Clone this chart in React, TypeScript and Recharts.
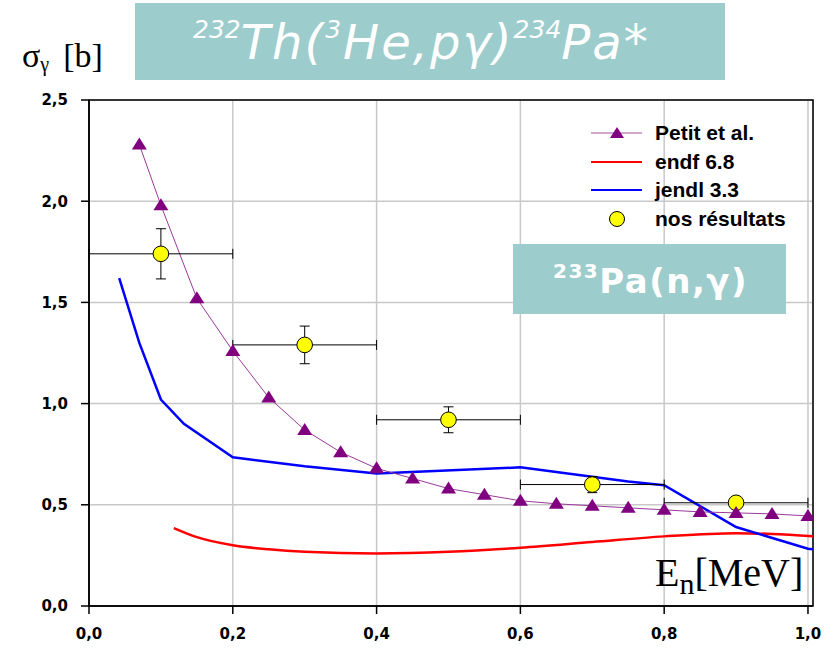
import {
  ComposedChart,
  Line,
  Scatter,
  ErrorBar,
  XAxis,
  YAxis,
  CartesianGrid,
  ReferenceArea,
  Legend,
} from "recharts";

// Petit et al. (triangles)
const petitX = [0.07, 0.1, 0.15, 0.2, 0.25, 0.3, 0.35, 0.4, 0.45, 0.5, 0.55, 0.6, 0.65, 0.7, 0.75, 0.8, 0.85, 0.9, 0.95, 1.0];
const petitY = [2.28, 1.98, 1.52, 1.26, 1.03, 0.87, 0.76, 0.68, 0.63, 0.58, 0.55, 0.52, 0.505, 0.495, 0.485, 0.475, 0.465, 0.46, 0.455, 0.445];

// endf 6.8
const endfX = [0.118, 0.15, 0.2, 0.25, 0.3, 0.4, 0.5, 0.6, 0.7, 0.8, 0.9, 0.95, 1.007];
const endfY = [0.385, 0.34, 0.3, 0.28, 0.268, 0.26, 0.268, 0.288, 0.316, 0.344, 0.36, 0.356, 0.345];

// jendl 3.3
const jendlX = [0.042, 0.07, 0.1, 0.132, 0.2, 0.3, 0.4, 0.6, 0.75, 0.8, 0.9, 1.0, 1.007];
const jendlY = [1.62, 1.3, 1.02, 0.9, 0.735, 0.69, 0.655, 0.685, 0.615, 0.597, 0.39, 0.283, 0.28];

// nos résultats
const nosX = [0.1, 0.3, 0.5, 0.7, 0.9];
const nosY = [1.74, 1.29, 0.92, 0.6, 0.51];
const nosXErr = [0.1, 0.1, 0.1, 0.1, 0.1];
const nosYErr = [0.124, 0.093, 0.064, 0.04, 0.02];

const xTicks = [0, 0.2, 0.4, 0.6, 0.8, 1.0];
const yTicks = [0, 0.5, 1.0, 1.5, 2.0, 2.5];

const petitData = petitX.map((x, i) => ({ x, y: petitY[i] }));
const endfData = endfX.map((x, i) => ({ x, y: endfY[i] }));
const jendlData = jendlX.map((x, i) => ({ x, y: jendlY[i] }));
const nosData = nosX.map((x, i) => ({ x, y: nosY[i], ex: nosXErr[i], ey: nosYErr[i] }));

const PURPLE = "#800080";
const TEAL = "#9ccccc";
const fmt = (v: number) => v.toFixed(1).replace(".", ",");
const tickFont = { fontFamily: "DejaVu Sans, Verdana", fontWeight: 700, fontSize: 15, fill: "#000" };

const Triangle = (props: any) => {
  const { cx, cy } = props;
  if (cx == null || cy == null) return null;
  return <path d={`M${cx},${cy - 7} L${cx + 7.5},${cy + 5} L${cx - 7.5},${cy + 5} Z`} fill={PURPLE} />;
};

const Circle = (props: any) => {
  const { cx, cy } = props;
  return <circle cx={cx} cy={cy} r={7.8} fill="#ffff00" stroke="#000" strokeWidth={1} />;
};

const renderLegend = () => {
  const rows = [
    { label: "Petit et al.", kind: "petit" },
    { label: "endf 6.8", kind: "endf" },
    { label: "jendl 3.3", kind: "jendl" },
    { label: "nos résultats", kind: "nos" },
  ];
  return (
    <div style={{ fontFamily: "Liberation Sans, Arial", fontWeight: 700, fontSize: 21, color: "#000" }}>
      {rows.map((r) => (
        <div key={r.kind} style={{ display: "flex", alignItems: "center", height: 28.5 }}>
          <svg width={66} height={20} style={{ flex: "none" }}>
            {r.kind === "petit" && (
              <>
                <line x1={2} y1={10} x2={53} y2={10} stroke="#a050a0" strokeWidth={1.2} />
                <path d="M28,4 L35,15 L21,15 Z" fill={PURPLE} />
              </>
            )}
            {r.kind === "endf" && <line x1={2} y1={10} x2={53} y2={10} stroke="#ff0000" strokeWidth={2} />}
            {r.kind === "jendl" && <line x1={2} y1={10} x2={53} y2={10} stroke="#0000ff" strokeWidth={2} />}
            {r.kind === "nos" && <circle cx={28} cy={10} r={7.5} fill="#ffff00" stroke="#000" />}
          </svg>
          <span style={{ whiteSpace: "nowrap" }}>{r.label}</span>
        </div>
      ))}
    </div>
  );
};

export default function App() {
  return (
    <div style={{ position: "absolute", left: 0, top: 0, width: 833, height: 652, background: "#fff" }}>
      <ComposedChart width={833} height={652} margin={{ top: 100, right: 20, bottom: 16, left: 39 }}>
        <CartesianGrid stroke="#c8c8c8" strokeWidth={1.5} />
        <XAxis
          type="number"
          dataKey="x"
          domain={[0, 1.007]}
          ticks={xTicks}
          tickFormatter={fmt}
          allowDataOverflow
          height={30}
          stroke="#000"
          strokeWidth={1.5}
          tickSize={8}
          tickMargin={14}
          tick={tickFont}
        />
        <YAxis
          type="number"
          dataKey="y"
          domain={[0, 2.5]}
          ticks={yTicks}
          tickFormatter={fmt}
          allowDataOverflow
          width={50}
          stroke="#000"
          strokeWidth={1.5}
          tickSize={8}
          tickMargin={13}
          tick={tickFont}
        />
        <ReferenceArea x1={0} x2={1.007} y1={0} y2={2.5} fill="none" stroke="#000" strokeWidth={1.5} />
        <Line data={endfData} dataKey="y" type="monotone" stroke="#ff0000" strokeWidth={2.5} dot={false} isAnimationActive={false} />
        <Line data={jendlData} dataKey="y" type="linear" stroke="#0000ff" strokeWidth={2.5} dot={false} isAnimationActive={false} />
        <Line data={petitData} dataKey="y" type="linear" stroke="#9a3a9a" strokeWidth={1} dot={<Triangle />} isAnimationActive={false} />
        <Scatter data={nosData} dataKey="y" shape={<Circle />} isAnimationActive={false}>
          <ErrorBar dataKey="ex" direction="x" stroke="#000" strokeWidth={1} width={5} />
          <ErrorBar dataKey="ey" direction="y" stroke="#000" strokeWidth={1} width={5} />
        </Scatter>
        <Legend
          content={renderLegend}
          layout="horizontal"
          verticalAlign="middle"
          align="center"
          wrapperStyle={{ left: 589, top: 119, width: 240 }}
        />
      </ComposedChart>

      {/* title box */}
      <div style={{ position: "absolute", left: 135, top: 3, width: 590, height: 77, background: TEAL }} />
      <div
        style={{
          position: "absolute",
          left: 193,
          top: 18,
          lineHeight: "48px",
          fontSize: 48,
          fontFamily: "DejaVu Sans, Verdana",
          fontStyle: "italic",
          color: "#fff",
          whiteSpace: "nowrap",
          letterSpacing: 2,
        }}
      >
        <span style={{ fontSize: 25, position: "relative", top: -21, letterSpacing: 0 }}>232</span>Th(
        <span style={{ fontSize: 25, position: "relative", top: -21 }}>3</span>He,pγ)
        <span style={{ fontSize: 25, position: "relative", top: -21, letterSpacing: 0 }}>234</span>Pa*
      </div>

      {/* y axis label */}
      <div
        style={{
          position: "absolute",
          left: 22,
          top: 39,
          lineHeight: "34px",
          fontSize: 34,
          fontFamily: "Liberation Serif, Times New Roman",
          color: "#000",
          whiteSpace: "nowrap",
        }}
      >
        σ<span style={{ fontSize: 20, position: "relative", top: 4 }}>γ</span>
        <span style={{ marginLeft: 14 }}>[b]</span>
      </div>

      {/* inset label */}
      <div style={{ position: "absolute", left: 513, top: 244, width: 273, height: 70, background: TEAL }} />
      <div
        style={{
          position: "absolute",
          left: 553,
          top: 264,
          lineHeight: "34px",
          fontSize: 34,
          fontFamily: "DejaVu Sans, Verdana",
          fontWeight: 700,
          color: "#fff",
          whiteSpace: "nowrap",
          letterSpacing: 1.5,
        }}
      >
        <span style={{ fontSize: 20, position: "relative", top: -15 }}>233</span>Pa(n,γ)
      </div>

      {/* x axis label */}
      <div
        style={{
          position: "absolute",
          left: 655,
          top: 553,
          lineHeight: "40px",
          fontSize: 40,
          fontFamily: "Liberation Serif, Times New Roman",
          color: "#000",
          whiteSpace: "nowrap",
        }}
      >
        E<span style={{ fontSize: 30, position: "relative", top: 8 }}>n</span>[MeV]
      </div>
    </div>
  );
}
